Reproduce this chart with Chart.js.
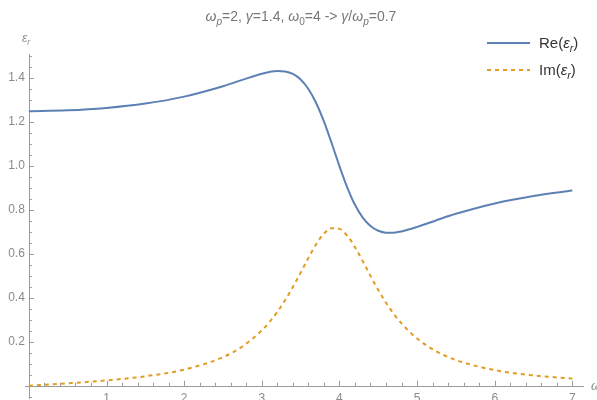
<!DOCTYPE html>
<html>
<head>
<meta charset="utf-8">
<script src="https://cdn.jsdelivr.net/npm/chart.js@4"></script>
<style>
  html, body { margin: 0; padding: 0; background: #fff; }
  #wrap { width: 597px; height: 400px; }
</style>
</head>
<body>
<div id="wrap"><canvas id="grafico"></canvas></div>
<script>
// datos
const omega = [0, 0.5, 1, 1.5, 2, 2.5, 2.75, 3, 3.1, 3.2, 3.3, 3.4, 3.5, 3.6, 3.7, 3.8, 3.9, 4,
  4.1, 4.2, 4.3, 4.4, 4.5, 4.6, 4.7, 4.8, 5, 5.25, 5.5, 6, 6.5, 7];
const reEps = [1.25, 1.2535, 1.2644, 1.2843, 1.3161, 1.3634, 1.3924, 1.4202, 1.4284, 1.4327, 1.4308,
  1.4192, 1.394, 1.351, 1.2872, 1.203, 1.1038, 1.0, 0.9036, 0.8239, 0.7653, 0.7271, 0.7056, 0.6969,
  0.697, 0.7027, 0.7231, 0.7536, 0.7827, 0.83, 0.864, 0.8886];
const imEps = [0, 0.0113, 0.0247, 0.0434, 0.0738, 0.1305, 0.179, 0.2521, 0.2909, 0.3365, 0.3895,
  0.4494, 0.5148, 0.582, 0.6441, 0.6923, 0.7175, 0.7143, 0.6833, 0.6312, 0.5674, 0.5004, 0.4364,
  0.3783, 0.3274, 0.2838, 0.2154, 0.1566, 0.1174, 0.0714, 0.0472, 0.0331];

const xTicks = [1, 2, 3, 4, 5, 6, 7];
const xTickLabels = ['1', '2', '3', '4', '5', '6', '7'];
const yTicks = [0.2, 0.4, 0.6, 0.8, 1.0, 1.2, 1.4];
const yTickLabels = ['0.2', '0.4', '0.6', '0.8', '1.0', '1.2', '1.4'];

const azul = '#5E81B5';
const naranja = '#E19C24';
const grisEje = '#9a9a9a';
const grisTexto = '#8a8a8a';
const fuente = '"Liberation Sans", Arial, sans-serif';

// dibuja texto con subindices y letras en cursiva
function dibujarTexto(ctx, partes, x, y, size, color, align) {
  let ancho = 0;
  partes.forEach(p => {
    const s = p.sub ? size * 0.72 : size;
    ctx.font = (p.it ? 'italic ' : '') + s + 'px ' + fuente;
    p.w = ctx.measureText(p.t).width;
    ancho += p.w;
  });
  let cx = x;
  if (align === 'center') cx = x - ancho / 2;
  if (align === 'right') cx = x - ancho;
  ctx.fillStyle = color;
  ctx.textBaseline = 'alphabetic';
  ctx.textAlign = 'left';
  partes.forEach(p => {
    const s = p.sub ? size * 0.72 : size;
    ctx.font = (p.it ? 'italic ' : '') + s + 'px ' + fuente;
    ctx.fillText(p.t, cx, p.sub ? y + size * 0.25 : y);
    cx += p.w;
  });
}

const ejes = {
  id: 'ejes',
  beforeDatasetsDraw(chart) {
    const ctx = chart.ctx;
    const sx = chart.scales.x, sy = chart.scales.y;
    const x0 = sx.getPixelForValue(0), y0 = sy.getPixelForValue(0);
    ctx.save();
    ctx.strokeStyle = grisEje;
    ctx.lineWidth = 1;
    ctx.beginPath();
    ctx.moveTo(sx.left, Math.round(y0) + 0.5);
    ctx.lineTo(sx.right, Math.round(y0) + 0.5);
    ctx.moveTo(Math.round(x0) + 0.5, sy.top);
    ctx.lineTo(Math.round(x0) + 0.5, sy.bottom);
    ctx.stroke();

    // marcas del eje x (menores cada 0.2)
    ctx.beginPath();
    for (let i = 1; i <= 35; i++) {
      const v = i * 0.2;
      const px = Math.round(sx.getPixelForValue(v)) + 0.5;
      const largo = (i % 5 === 0) ? 5 : 3;
      ctx.moveTo(px, y0);
      ctx.lineTo(px, y0 - largo);
    }
    // marcas del eje y (menores cada 0.05)
    for (let i = -1; i <= 30; i++) {
      if (i === 0) continue;
      const v = i * 0.05;
      const py = Math.round(sy.getPixelForValue(v)) + 0.5;
      const largo = (i % 4 === 0) ? 5 : 3;
      ctx.moveTo(x0, py);
      ctx.lineTo(x0 + largo, py);
    }
    ctx.stroke();

    ctx.fillStyle = grisTexto;
    ctx.font = '12px ' + fuente;
    ctx.textAlign = 'center';
    ctx.textBaseline = 'top';
    xTicks.forEach((v, i) => {
      ctx.fillText(xTickLabels[i], sx.getPixelForValue(v), y0 + 7);
    });
    ctx.textAlign = 'right';
    ctx.textBaseline = 'middle';
    yTicks.forEach((v, i) => {
      ctx.fillText(yTickLabels[i], x0 - 4, sy.getPixelForValue(v));
    });
    ctx.restore();
  },
  afterDraw(chart) {
    const ctx = chart.ctx;
    const sx = chart.scales.x, sy = chart.scales.y;
    ctx.save();
    // titulo
    dibujarTexto(ctx, [
      { t: 'ω', it: true }, { t: 'p', it: true, sub: true }, { t: '=2, ' },
      { t: 'γ', it: true }, { t: '=1.4, ' },
      { t: 'ω', it: true }, { t: '0', sub: true }, { t: '=4 -> ' },
      { t: 'γ', it: true }, { t: '/' }, { t: 'ω', it: true }, { t: 'p', it: true, sub: true }, { t: '=0.7' }
    ], 301, 21, 14, '#777', 'center');

    // etiquetas de ejes
    dibujarTexto(ctx, [{ t: 'ε', it: true }, { t: 'r', it: true, sub: true }], 22, 42, 12, grisTexto, 'left');
    dibujarTexto(ctx, [{ t: 'ω', it: true }], 591, sy.getPixelForValue(0) + 4, 13, grisTexto, 'left');

    // leyenda
    const items = [
      { nombre: 'Re', color: azul, dash: [], y: 43 },
      { nombre: 'Im', color: naranja, dash: [4, 4], y: 70 }
    ];
    items.forEach(it => {
      ctx.strokeStyle = it.color;
      ctx.lineWidth = 2;
      ctx.setLineDash(it.dash);
      ctx.beginPath();
      ctx.moveTo(487, it.y);
      ctx.lineTo(530, it.y);
      ctx.stroke();
      ctx.setLineDash([]);
      dibujarTexto(ctx, [
        { t: it.nombre + '(' }, { t: 'ε', it: true }, { t: 'r', it: true, sub: true }, { t: ')' }
      ], 539, it.y + 5, 15, '#333', 'left');
    });
    ctx.restore();
  }
};

new Chart(document.getElementById('grafico'), {
  type: 'line',
  data: {
    datasets: [
      {
        label: 'Re(εr)',
        data: omega.map((w, i) => ({ x: w, y: reEps[i] })),
        borderColor: azul,
        borderWidth: 2,
        pointRadius: 0,
        fill: false,
        cubicInterpolationMode: 'monotone'
      },
      {
        label: 'Im(εr)',
        data: omega.map((w, i) => ({ x: w, y: imEps[i] })),
        borderColor: naranja,
        borderWidth: 2,
        borderDash: [4, 4],
        pointRadius: 0,
        fill: false,
        cubicInterpolationMode: 'monotone'
      }
    ]
  },
  options: {
    responsive: true,
    maintainAspectRatio: false,
    animation: false,
    layout: { padding: { left: 25, right: 13, top: 54, bottom: 1 } },
    plugins: {
      legend: { display: false },
      title: { display: false },
      tooltip: { enabled: false }
    },
    scales: {
      x: { type: 'linear', min: -0.05, max: 7.15, display: false },
      y: { type: 'linear', min: -0.06, max: 1.51, display: false }
    }
  },
  plugins: [ejes]
});
</script>
</body>
</html>
